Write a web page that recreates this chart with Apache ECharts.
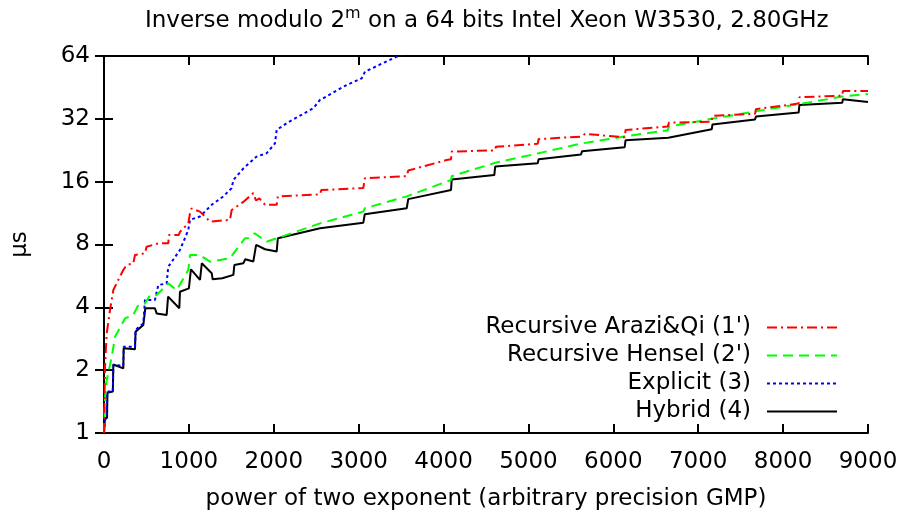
<!DOCTYPE html>
<html>
<head>
<meta charset="utf-8">
<script src="https://cdn.jsdelivr.net/npm/echarts@6/dist/echarts.min.js"></script>
<style>
html,body{margin:0;padding:0;background:#fff;}
#chart{width:902px;height:517px;}
</style>
</head>
<body>
<div id="chart"></div>
<script>
// ---- data ----
const seriesNames = ["Recursive Arazi&Qi (1')", "Recursive Hensel (2')", "Explicit (3)", "Hybrid (4)"];
const yTicks = [1, 2, 4, 8, 16, 32, 64];
const xTicks = [0, 1000, 2000, 3000, 4000, 5000, 6000, 7000, 8000, 9000];

const arazi = [[0,1.0],[12,2.08],[32,3.0],[71,3.89],[110,4.84],[168,5.41],[227,6.04],[267,6.38],[345,6.5],[365,7.12],[483,7.26],[502,7.81],[640,8.1],[757,8.1],[765,8.88],[880,8.88],[895,9.2],[993,10.1],[1013,11.3],[1030,11.9],[1131,11.5],[1249,10.3],[1269,10.1],[1484,10.5],[1504,11.7],[1641,12.8],[1759,14.1],[1790,13.0],[1830,13.3],[1897,12.4],[2034,12.4],[2048,13.6],[2545,13.9],[2560,14.6],[3055,14.9],[3072,16.6],[3566,17.0],[3584,18.1],[4034,20.3],[4088,20.5],[4096,22.3],[4606,22.6],[4616,23.5],[5109,24.3],[5120,25.6],[5627,26.3],[5666,27.1],[6134,26.1],[6144,28.3],[6640,29.4],[6656,30.7],[7159,31.0],[7168,33.1],[7669,33.8],[7680,35.6],[8183,37.9],[8192,40.6],[8697,41.3],[8704,43.5],[9000,43.5]];

const hensel = [[0,1.0],[12,1.49],[32,1.79],[91,2.32],[130,2.89],[247,3.54],[345,3.68],[404,4.1],[483,4.17],[542,4.58],[620,4.58],[757,5.21],[856,4.84],[993,6.04],[1013,7.12],[1131,7.12],[1249,6.62],[1484,6.87],[1661,8.57],[1700,8.6],[1774,9.06],[1916,8.25],[2048,8.6],[2545,10.1],[2560,10.3],[3055,11.5],[3072,11.93],[3566,13.6],[3584,13.8],[4088,16.3],[4096,17.0],[4608,19.7],[5120,21.9],[5632,24.4],[6144,26.4],[6640,28.2],[6656,29.4],[7159,32.0],[7669,34.7],[8183,37.6],[8697,40.9],[9000,42.1]];

const explicit = [[0,1.0],[12,1.15],[32,1.2],[40,1.58],[104,1.58],[110,2.12],[227,2.1],[232,2.59],[365,2.59],[372,3.12],[463,3.35],[483,4.34],[600,4.34],[640,5.12],[738,5.2],[757,6.26],[895,7.53],[993,9.39],[1013,10.5],[1131,10.9],[1269,12.4],[1406,13.6],[1504,14.9],[1524,16.3],[1641,18.5],[1798,21.1],[1916,21.9],[2014,24.4],[2034,28.3],[2152,30.5],[2466,36.0],[2545,39.4],[2859,46.5],[3036,50.0],[3075,53.9],[3448,63.5],[3584,68]];

const hybrid = [[0,1.0],[12,1.18],[36,1.18],[40,1.56],[104,1.58],[110,2.13],[227,2.04],[232,2.55],[365,2.52],[372,3.06],[463,3.29],[487,3.96],[600,3.96],[620,3.74],[738,3.68],[755,4.5],[887,3.96],[895,4.75],[1000,4.93],[1013,5.02],[1024,6.08],[1131,5.41],[1152,6.5],[1269,5.83],[1280,5.45],[1394,5.51],[1408,5.6],[1524,5.72],[1536,6.38],[1641,6.5],[1664,6.8],[1759,6.63],[1792,7.96],[1897,7.59],[2034,7.4],[2048,8.57],[2545,9.57],[2560,9.7],[3055,10.18],[3072,11.17],[3566,11.93],[3584,13.2],[4088,14.6],[4096,16.4],[4598,17.2],[4608,18.9],[5109,19.6],[5120,20.5],[5619,21.6],[5632,22.4],[6134,23.4],[6144,25.3],[6647,26.0],[6656,26.5],[7159,28.5],[7168,30.1],[7669,31.8],[7680,32.8],[8183,34.3],[8192,37.3],[8697,38.2],[8704,39.7],[9000,38.5]];

const FONT = "'DejaVu Sans', sans-serif";
const FS = 23;
const chart = echarts.init(document.getElementById('chart'), null, {renderer: 'canvas'});

const styles = [
  {color: '#ff0000', type: [10, 4, 2, 4]},
  {color: '#00ff00', type: [10, 6]},
  {color: '#0000ff', type: [3, 3]},
  {color: '#000000', type: 'solid'}
];
const datasets = [arazi, hensel, explicit, hybrid];

const series = datasets.map((d, i) => ({
  name: seriesNames[i],
  type: 'line',
  data: d,
  xAxisIndex: 0,
  yAxisIndex: 0,
  showSymbol: false,
  symbol: 'none',
  animation: false,
  clip: true,
  z: 10 - i,
  lineStyle: {color: styles[i].color, width: 2, type: styles[i].type},
  itemStyle: {color: styles[i].color}
}));

const commonTick = {show: true, inside: true, length: 9, lineStyle: {color: '#000', width: 2}};
const commonLine = {show: true, lineStyle: {color: '#000', width: 2}};

chart.setOption({
  animation: false,
  backgroundColor: '#fff',
  title: {
    text: 'Inverse modulo 2{sup|m} on a 64 bits Intel Xeon W3530, 2.80GHz',
    left: 140,
    top: 1,
    textStyle: {
      fontFamily: FONT, fontSize: FS, fontWeight: 'normal', color: '#000',
      rich: {sup: {fontFamily: FONT, fontSize: 16, color: '#000', padding: [0, 0, 14, 0]}}
    }
  },
  grid: {left: 104, right: 34, top: 56, bottom: 84},
  legend: {
    orient: 'vertical',
    right: 59,
    top: 311,
    align: 'right',
    itemWidth: 70,
    itemHeight: 14,
    itemGap: 5,
    itemStyle: {color: 'rgba(0,0,0,0)', borderColor: 'rgba(0,0,0,0)', borderWidth: 0, opacity: 0},
    textStyle: {fontFamily: FONT, fontSize: FS, color: '#000', padding: [0, 11, 0, 0]},
    data: seriesNames
  },
  xAxis: [{
    type: 'value', min: 0, max: 9000, interval: 1000, position: 'bottom',
    axisLine: commonLine, axisTick: commonTick, splitLine: {show: false},
    axisLabel: {fontFamily: FONT, fontSize: FS, color: '#000', margin: 18, formatter: v => String(v)},
    name: 'power of two exponent (arbitrary precision GMP)',
    nameLocation: 'middle', nameGap: 55,
    nameTextStyle: {fontFamily: FONT, fontSize: FS, color: '#000'}
  }, {
    type: 'value', min: 0, max: 9000, interval: 1000, position: 'top',
    axisLine: commonLine, axisTick: commonTick, splitLine: {show: false},
    axisLabel: {show: false}
  }],
  yAxis: [{
    type: 'log', logBase: 2, min: 1, max: 64, position: 'left',
    axisLine: commonLine, axisTick: commonTick, splitLine: {show: false},
    axisLabel: {fontFamily: FONT, fontSize: FS, color: '#000', margin: 14,
      formatter: v => yTicks.includes(Math.round(v)) ? String(Math.round(v)) : ''},
    name: 'μs', nameLocation: 'middle', nameGap: 72, nameRotate: 90,
    nameTextStyle: {fontFamily: FONT, fontSize: FS, color: '#000'}
  }, {
    type: 'log', logBase: 2, min: 1, max: 64, position: 'right',
    axisLine: commonLine, axisTick: commonTick, splitLine: {show: false},
    axisLabel: {show: false}
  }],
  series: series
});
</script>
</body>
</html>
